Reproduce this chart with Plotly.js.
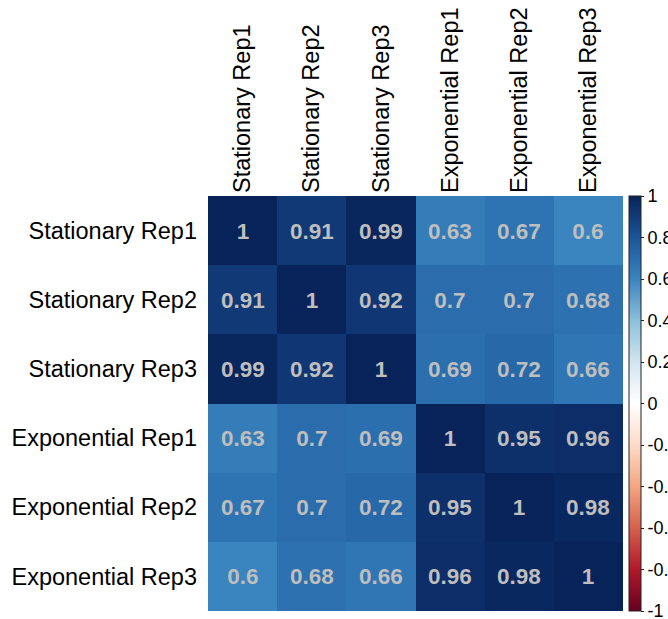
<!DOCTYPE html>
<html>
<head>
<meta charset="utf-8">
<script src="https://cdn.plot.ly/plotly-3.0.1.min.js"></script>
<style>html,body{margin:0;padding:0;background:#fff;}#chart{width:668px;height:619px;}</style>
</head>
<body>
<div id="chart"></div>
<script>
const labels = ["Stationary Rep1","Stationary Rep2","Stationary Rep3","Exponential Rep1","Exponential Rep2","Exponential Rep3"];
const rowS1 = [1, 0.91, 0.99, 0.63, 0.67, 0.6];
const rowS2 = [0.91, 1, 0.92, 0.7, 0.7, 0.68];
const rowS3 = [0.99, 0.92, 1, 0.69, 0.72, 0.66];
const rowE1 = [0.63, 0.7, 0.69, 1, 0.95, 0.96];
const rowE2 = [0.67, 0.7, 0.72, 0.95, 1, 0.98];
const rowE3 = [0.6, 0.68, 0.66, 0.96, 0.98, 1];
const colorbarTicks = [1, 0.8, 0.6, 0.4, 0.2, 0, -0.2, -0.4, -0.6, -0.8, -1];

const z = [rowS1, rowS2, rowS3, rowE1, rowE2, rowE3];
const text = z.map(r => r.map(v => String(v)));

const pal = ["#67001F","#B2182B","#D6604D","#F4A582","#FDDBC7","#FFFFFF","#D1E5F0","#8CBFDB","#3A84BF","#1B5599","#08235A"];
const colorscale = pal.map((c, i) => [i / (pal.length - 1), c]);

const trace = {
  type: 'heatmap',
  x: labels,
  y: labels,
  z: z,
  text: text,
  texttemplate: '%{text}',
  textfont: {family: 'Liberation Sans, Arial, sans-serif', size: 22.5, color: '#BEBEBE', weight: 'bold'},
  zmin: -1, zmax: 1,
  colorscale: colorscale,
  hoverinfo: 'skip',
  colorbar: {
    x: (629 - 208) / 415, xanchor: 'left', xpad: 0,
    y: 0.5, yanchor: 'middle', ypad: 0,
    len: 1, lenmode: 'fraction',
    thickness: 12,
    outlinewidth: 1, outlinecolor: '#222',
    tickmode: 'array', tickvals: colorbarTicks, ticktext: colorbarTicks.map(String),
    ticks: 'outside', ticklen: 3, tickcolor: '#222',
    ticklabeloverflow: 'allow',
    tickfont: {family: 'Liberation Sans, Arial, sans-serif', size: 18, color: '#000'}
  }
};

const layout = {
  width: 668, height: 619,
  margin: {l: 208, r: 45, t: 196, b: 8, autoexpand: false},
  paper_bgcolor: '#fff', plot_bgcolor: '#fff',
  font: {family: 'Liberation Sans, Arial, sans-serif', color: '#000'},
  xaxis: {side: 'top', tickangle: -90, tickfont: {size: 23.5, color: '#000'}, showgrid: false, zeroline: false, ticks: '', ticklabelstandoff: 2, fixedrange: true, automargin: false},
  yaxis: {autorange: 'reversed', tickfont: {size: 23.5, color: '#000'}, showgrid: false, zeroline: false, ticks: '', ticklabelstandoff: 10, fixedrange: true, automargin: false},
  showlegend: false
};

Plotly.newPlot('chart', [trace], layout, {displayModeBar: false, staticPlot: true});
</script>
</body>
</html>
